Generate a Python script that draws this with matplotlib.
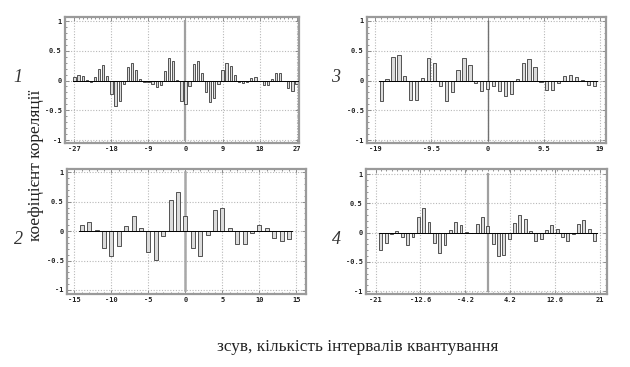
import numpy as np
import matplotlib
matplotlib.use("Agg")
import matplotlib.pyplot as plt
from matplotlib.ticker import FixedLocator

# ---------------- data ----------------
lags1 = list(range(-27, 28))
vals1 = [0.055, 0.10, 0.07, 0.01, -0.03, 0.055, 0.20, 0.26, 0.08, -0.23,
         -0.43, -0.35, -0.055, 0.23, 0.29, 0.17, 0.03, -0.03, -0.03, -0.055,
         -0.11, -0.07, 0.16, 0.38, 0.33, 0.005, -0.35, -0.40, -0.10, 0.27,
         0.33, 0.13, -0.20, -0.36, -0.29, -0.055, 0.18, 0.29, 0.25, 0.10,
         -0.03, -0.05, -0.03, 0.045, 0.06, -0.01, -0.08, -0.08, 0.02, 0.13,
         0.12, -0.01, -0.12, -0.17, -0.055]
ticks1 = [-27, -18, -9, 0, 9, 18, 27]
ticklabels1 = ["-27", "-18", "-9", "0", "9", "18", "27"]

lags3 = list(range(-18, 19))
vals3 = [-0.34, 0.03, 0.39, 0.43, 0.07, -0.32, -0.33, 0.045, 0.38, 0.29,
         -0.09, -0.34, -0.20, 0.17, 0.38, 0.26, -0.04, -0.18, -0.14, -0.10,
         -0.18, -0.26, -0.22, 0.03, 0.29, 0.36, 0.22, -0.02, -0.16, -0.16,
         -0.04, 0.07, 0.10, 0.055, 0.004, -0.07, -0.09]
ticks3 = [-19, -9.5, 0, 9.5, 19]
ticklabels3 = ["-19", "-9.5", "0", "9.5", "19"]

lags2 = list(range(-14, 15))
vals2 = [0.10, 0.15, 0.02, -0.28, -0.42, -0.25, 0.09, 0.26, 0.055, -0.35,
         -0.49, -0.08, 0.53, 0.67, 0.26, -0.29, -0.42, -0.07, 0.36, 0.40,
         0.05, -0.22, -0.22, -0.04, 0.10, 0.055, -0.11, -0.16, -0.13]
ticks2 = [-15, -10, -5, 0, 5, 10, 15]
ticklabels2 = ["-15", "-10", "-5", "0", "5", "10", "15"]

lags4 = list(range(-20, 21))
vals4 = [-0.30, -0.18, -0.02, 0.02, -0.07, -0.21, -0.07, 0.27, 0.42, 0.19,
         -0.18, -0.34, -0.21, 0.045, 0.18, 0.13, 0.005, -0.01, 0.15, 0.26,
         0.11, -0.19, -0.40, -0.38, -0.11, 0.17, 0.30, 0.23, 0.02, -0.15,
         -0.10, 0.045, 0.13, 0.06, -0.08, -0.14, -0.03, 0.15, 0.21, 0.06,
         -0.14]
ticks4 = [-21, -12.6, -4.2, 4.2, 12.6, 21]
ticklabels4 = ["-21", "-12.6", "-4.2", "4.2", "12.6", "21"]

yticks = [-1, -0.5, 0, 0.5, 1]
yticklabels = ["-1", "-0.5", "0", "0.5", "1"]

panel_labels = ["1", "3", "2", "4"]
ylabel = "коефіцієнт кореляції"
xlabel = "зсув, кількість інтервалів квантування"

# ---------------- figure ----------------
W, H = 630, 367
fig = plt.figure(figsize=(W / 100, H / 100), dpi=100)
fig.patch.set_facecolor("white")

def px_rect(l, r, t, b):
    return [l / W, 1 - b / H, (r - l) / W, (b - t) / H]

panels = [
    (lags1, vals1, ticks1, ticklabels1, px_rect(65, 299, 16.5, 142.5), (-29.3, 27.6), (-1.042, 1.076), "#a0a0a0", 1.6),
    (lags3, vals3, ticks3, ticklabels3, px_rect(367, 606, 17, 142.7), (-20.4, 20.0), (-1.045, 1.067), "#707070", 1.0),
    (lags2, vals2, ticks2, ticklabels2, px_rect(67, 306, 169, 293.5), (-16.0, 16.3), (-1.06, 1.056), "#a8a8a8", 1.8),
    (lags4, vals4, ticks4, ticklabels4, px_rect(366, 606.5, 169, 294), (-22.8, 22.25), (-1.05, 1.09), "#a0a0a0", 1.6),
]

tickfont = dict(family="DejaVu Sans Mono", size=5, weight="bold")

for i, (lags, vals, xt, xtl, rect, xl, yl, vcol, vlw) in enumerate(panels):
    ax = fig.add_axes(rect)
    ax.set_xlim(*xl)
    ax.set_ylim(*yl)
    ax.grid(True, which="major", color="#b8b8b8", linestyle=(0, (1, 1.5)), linewidth=0.8)
    ax.set_axisbelow(True)
    ax.axvline(0, ymin=(-1 - yl[0]) / (yl[1] - yl[0]), ymax=(1 - yl[0]) / (yl[1] - yl[0]),
               color=vcol, lw=vlw, zorder=1)
    ax.bar(lags, vals, width=0.55, facecolor="#dcdcdc", edgecolor="#3a3a3a",
           linewidth=0.6, zorder=2)
    ax.plot([min(lags) - 0.4, max(lags) + 0.4], [0, 0], color="black", lw=0.7, zorder=3)
    ax.set_xticks(xt)
    ax.set_xticklabels(xtl, **tickfont)
    ax.set_yticks(yticks)
    ax.set_yticklabels(yticklabels, **tickfont)
    ax.xaxis.set_minor_locator(FixedLocator(lags))
    ax.yaxis.set_minor_locator(FixedLocator(np.arange(-1, 1.01, 0.1)))
    ax.tick_params(which="both", direction="in", top=True, right=True,
                   color="#808080", width=0.6)
    ax.tick_params(which="major", length=3, pad=2.5, labelcolor="#202020")
    ax.tick_params(which="minor", length=1.5)
    for s in ax.spines.values():
        s.set_color("#9a9a9a")
        s.set_linewidth(1.6)

# panel numbers
for lab, (x, y) in zip(panel_labels, [(18, 78), (336, 78), (18, 240), (336, 240)]):
    fig.text(x / W, 1 - y / H, lab, fontsize=13, style="italic",
             family="Liberation Serif", ha="center", va="center", color="#333333")

fig.text(36 / W, 1 - 165 / H, ylabel, rotation=90, fontsize=12.5,
         family="Liberation Serif", ha="center", va="center", color="#222222")
fig.text(358 / W, 1 - 347 / H, xlabel, fontsize=12.4,
         family="Liberation Serif", ha="center", va="center", color="#222222")

fig.savefig("out.png", dpi=100, facecolor="white")
